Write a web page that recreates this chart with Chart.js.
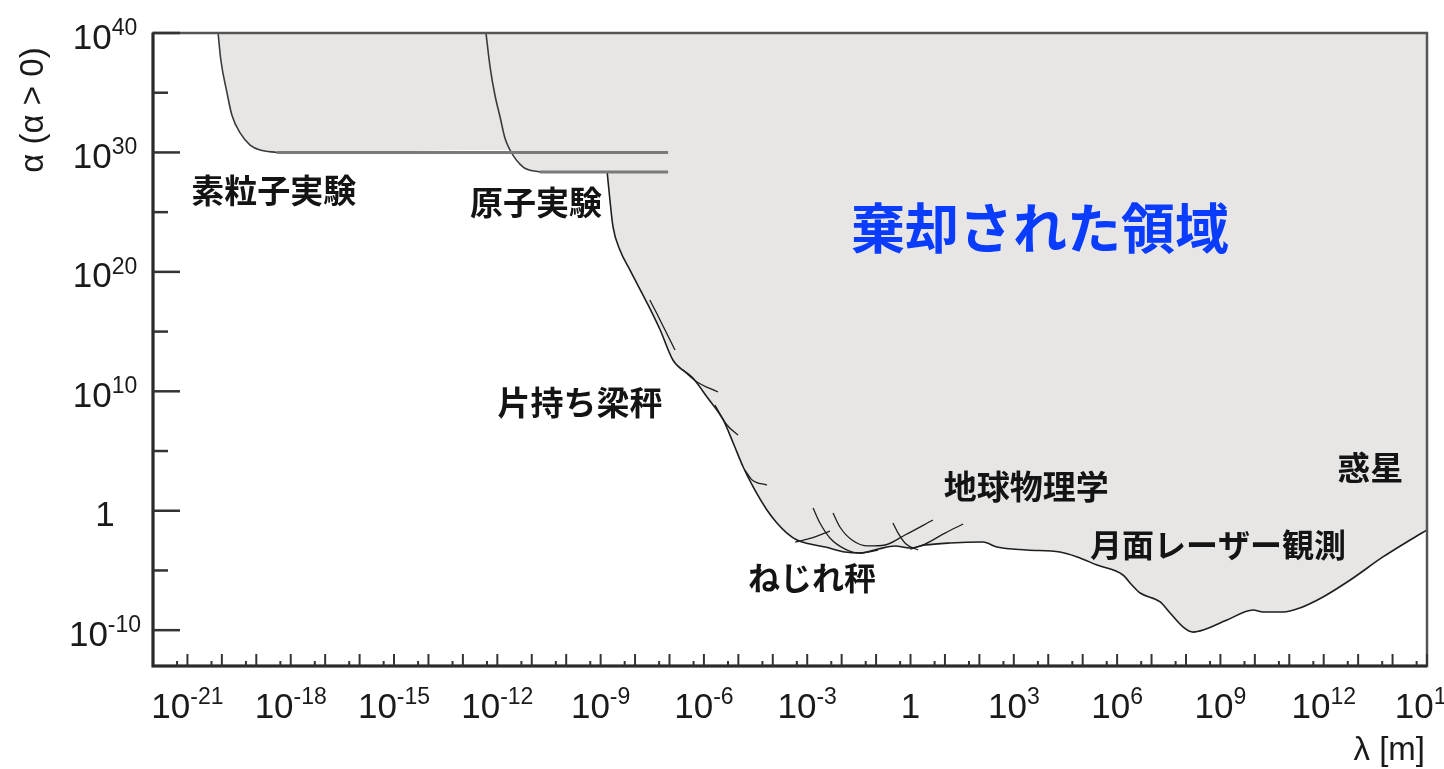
<!DOCTYPE html>
<html lang="ja">
<head>
<meta charset="utf-8">
<script src="https://cdn.jsdelivr.net/npm/chart.js@4.4.1/dist/chart.umd.min.js"></script>
<style>
html, body { margin: 0; padding: 0; background: #fff; overflow: hidden; }
#wrap { position: relative; width: 1444px; height: 769px; }
</style>
</head>
<body>
<div id="wrap"><canvas id="chart0"></canvas></div>
<script>
/** Data: [log10(lambda / m), log10(alpha)] **/
const particleCurve = [[-20.11, 40], [-20.03, 37.74], [-19.85, 34.98], [-19.71, 33.13], [-19.47, 31.63], [-19.18, 30.62], [-18.89, 30.20], [-18.40, 30]];
const particleFlat = [[-18.40, 30], [-7.04, 30]];
const atomicCurve = [[-12.33, 40], [-12.21, 37.15], [-12.07, 34.81], [-11.92, 32.97], [-11.78, 31.21], [-11.63, 30.20], [-11.25, 28.78], [-10.76, 28.36]];
const atomicFlat = [[-10.76, 28.36], [-7.04, 28.36]];
const mainCurve = [[-8.81, 28.36], [-8.73, 26.02], [-8.64, 23.76], [-8.44, 21.83], [-8.15, 20.16], [-7.65, 17.39], [-7.27, 15.13],
  [-6.90, 12.62], [-6.32, 11.11], [-5.91, 9.52], [-5.44, 7.60], [-5.15, 5.67], [-4.86, 3.66], [-4.57, 1.99], [-4.17, 0.06],
  [-3.88, -1.03], [-3.59, -1.87], [-3.30, -2.45], [-2.92, -2.79], [-2.48, -3.04], [-1.90, -3.46], [-1.47, -3.54], [-0.94, -3.21],
  [-0.45, -2.95], [-0.01, -3.12], [0.42, -2.87], [1.15, -2.70], [2.11, -2.62], [2.51, -3.04], [3.38, -3.29], [4.34, -3.46],
  [4.84, -3.87], [5.42, -4.55], [6.17, -5.38], [6.43, -6.22], [6.67, -6.89], [7.25, -7.64], [7.54, -8.56], [7.92, -9.74],
  [8.21, -10.16], [8.50, -9.99], [9.19, -9.15], [9.95, -8.31], [10.24, -8.48], [10.82, -8.48], [11.31, -8.14], [11.98, -7.22],
  [12.77, -5.80], [13.72, -3.87], [14.51, -2.45], [15.0, -1.61]];
// cantilever branches
const cantilever1 = [[-7.57, 17.64], [-7.36, 16.47], [-7.10, 14.96], [-6.84, 13.46]];
const cantilever2 = [[-6.61, 11.78], [-6.20, 10.78], [-5.59, 9.94]];
const cantilever3 = [[-5.68, 8.85], [-5.33, 7.18], [-5.01, 6.34]];
const cantilever4 = [[-4.81, 3.41], [-4.60, 2.57], [-4.17, 2.15]];
// torsion balance branches
const torsion1 = [[-2.83, 0.23], [-2.63, -1.03], [-2.34, -2.28], [-1.90, -3.21], [-1.47, -3.54], [-0.94, -3.29]];
const torsion2 = [[-2.25, -0.19], [-2.05, -1.36], [-1.70, -2.45], [-1.23, -2.95], [-0.74, -2.87], [-0.16, -2.03], [0.65, -0.78]];
const torsion3 = [[-0.51, -1.03], [-0.36, -1.87], [-0.13, -2.79], [0.22, -3.29]];
const torsion4 = [[-0.01, -3.21], [0.42, -2.79], [1.00, -1.87], [1.53, -1.11]];
const torsion5 = [[-3.35, -2.62], [-2.86, -2.28], [-2.34, -1.70]];

/** Axes **/
const xMin = -22, xMax = 15, yMin = -13, yMax = 40;
const xLabelExp = [-21, -18, -15, -12, -9, -6, -3, 0, 3, 6, 9, 12, 15];
const yLabelExp = [40, 30, 20, 10, 0, -10];
const yMinorExp = [35, 25, 15, 5, -5];

const annotations = [
  { text: "素粒子実験", lx: -18.49, ly: 26.85, size: 33, color: "#141414" },
  { text: "原子実験", lx: -10.88, ly: 25.85, size: 33, color: "#141414" },
  { text: "棄却された領域", lx: 3.76, ly: 23.67, size: 54, color: "#0a3cff" },
  { text: "片持ち梁秤", lx: -9.60, ly: 9.10, size: 33, color: "#141414" },
  { text: "地球物理学", lx: 3.36, ly: 2.07, size: 33, color: "#141414" },
  { text: "惑星", lx: 13.35, ly: 3.66, size: 33, color: "#141414" },
  { text: "月面レーザー観測", lx: 8.93, ly: -2.87, size: 32, color: "#141414" },
  { text: "ねじれ秤", lx: -2.86, ly: -5.63, size: 32, color: "#141414" }
];

function toPoints(arr) {
  return arr.map(p => ({ x: Math.pow(10, p[0]), y: Math.pow(10, p[1]) }));
}

const fillBoundary = particleCurve.concat(atomicCurve.filter(p => p[1] <= 30.2), mainCurve);

function lineSet(arr, color, width) {
  return {
    data: toPoints(arr),
    showLine: true,
    borderColor: color,
    borderWidth: width,
    pointRadius: 0,
    fill: false,
    cubicInterpolationMode: 'monotone'
  };
}

const baseFont = '35px "Liberation Sans", Arial, sans-serif';
const supFont = '23px "Liberation Sans", Arial, sans-serif';

function drawPow(ctx, exp, cx, cy) {
  ctx.textAlign = 'left';
  ctx.textBaseline = 'alphabetic';
  ctx.font = baseFont;
  if (exp === 0) {
    const w1 = ctx.measureText('1').width;
    ctx.fillText('1', cx - w1 / 2, cy + 12.6);
    return;
  }
  const wb = ctx.measureText('10').width;
  ctx.font = supFont;
  const sup = String(exp);
  const ws = ctx.measureText(sup).width;
  const left = cx - (wb + ws) / 2;
  ctx.font = baseFont;
  ctx.fillText('10', left, cy + 12.6);
  ctx.font = supFont;
  ctx.fillText(sup, left + wb, cy - 1);
}

const axesPlugin = {
  id: 'axesPlugin',
  afterDatasetsDraw(chart) {
    const ctx = chart.ctx;
    const a = chart.chartArea;
    const xs = chart.scales.x, ys = chart.scales.y;
    ctx.save();
    // frame
    ctx.strokeStyle = '#555';
    ctx.lineWidth = 2.5;
    ctx.strokeRect(a.left, a.top, a.right - a.left, a.bottom - a.top);
    ctx.strokeStyle = '#2a2a2a';
    ctx.lineWidth = 3;
    ctx.beginPath();
    ctx.moveTo(a.left, a.top);
    ctx.lineTo(a.left, a.bottom);
    ctx.lineTo(a.right, a.bottom);
    ctx.stroke();

    // y ticks
    ctx.lineWidth = 2.5;
    ctx.strokeStyle = '#333';
    yLabelExp.forEach(e => {
      const y = ys.getPixelForValue(Math.pow(10, e));
      ctx.beginPath(); ctx.moveTo(a.left, y); ctx.lineTo(a.left + 27, y); ctx.stroke();
    });
    yMinorExp.forEach(e => {
      const y = ys.getPixelForValue(Math.pow(10, e));
      ctx.beginPath(); ctx.moveTo(a.left, y); ctx.lineTo(a.left + 15, y); ctx.stroke();
    });
    // x ticks
    ctx.lineWidth = 2;
    for (let e = xMin + 1; e <= xMax; e++) {
      const x = xs.getPixelForValue(Math.pow(10, e));
      ctx.beginPath(); ctx.moveTo(x, a.bottom); ctx.lineTo(x, a.bottom - 12); ctx.stroke();
      const xm = xs.getPixelForValue(5 * Math.pow(10, e - 1));
      ctx.beginPath(); ctx.moveTo(xm, a.bottom); ctx.lineTo(xm, a.bottom - 5); ctx.stroke();
    }

    // tick labels
    ctx.fillStyle = '#1a1a1a';
    yLabelExp.forEach(e => {
      drawPow(ctx, e, 105, ys.getPixelForValue(Math.pow(10, e)) + 3);
    });
    xLabelExp.forEach(e => {
      drawPow(ctx, e, xs.getPixelForValue(Math.pow(10, e)), a.bottom + 39);
    });

    // axis titles
    ctx.font = '33px "Liberation Sans", Arial, sans-serif';
    ctx.save();
    ctx.translate(34, 110);
    ctx.rotate(-Math.PI / 2);
    ctx.textAlign = 'center';
    ctx.textBaseline = 'middle';
    ctx.fillText('α (α > 0)', 0, 0);
    ctx.restore();
    ctx.textAlign = 'right';
    ctx.textBaseline = 'alphabetic';
    ctx.fillText('λ [m]', a.right - 2, 760);

    // region labels
    ctx.textAlign = 'center';
    ctx.textBaseline = 'middle';
    annotations.forEach(t => {
      ctx.font = 'bold ' + t.size + 'px "Noto Sans CJK JP", sans-serif';
      ctx.fillStyle = t.color;
      ctx.fillText(t.text, xs.getPixelForValue(Math.pow(10, t.lx)), ys.getPixelForValue(Math.pow(10, t.ly)));
    });
    ctx.restore();
  }
};

const dark = '#1e1e1e';
const flatGray = '#7a7a7a';

var ctx = document.getElementById('chart0');
var chart = new Chart(ctx, {
  type: 'scatter',
  data: {
    datasets: [
      {
        data: toPoints(fillBoundary),
        showLine: true,
        borderWidth: 0,
        borderColor: 'rgba(0,0,0,0)',
        backgroundColor: '#e7e6e5',
        pointRadius: 0,
        fill: 'end',
        cubicInterpolationMode: 'monotone',
        order: 10
      },
      lineSet(particleCurve, '#3a3a3a', 1.6),
      lineSet(particleFlat, flatGray, 3),
      lineSet(atomicCurve, '#3a3a3a', 1.6),
      lineSet(atomicFlat, flatGray, 3),
      lineSet(mainCurve, dark, 1.6),
      lineSet(cantilever1, dark, 1.3),
      lineSet(cantilever2, dark, 1.3),
      lineSet(cantilever3, dark, 1.3),
      lineSet(cantilever4, dark, 1.3),
      lineSet(torsion1, dark, 1.3),
      lineSet(torsion2, dark, 1.3),
      lineSet(torsion3, dark, 1.3),
      lineSet(torsion4, dark, 1.3),
      lineSet(torsion5, dark, 1.3)
    ]
  },
  options: {
    responsive: true,
    maintainAspectRatio: false,
    animation: false,
    layout: { padding: { left: 153, top: 33, right: 17, bottom: 103 } },
    plugins: {
      legend: { display: false },
      tooltip: { enabled: false }
    },
    scales: {
      x: { type: 'logarithmic', display: false, min: Math.pow(10, xMin), max: Math.pow(10, xMax) },
      y: { type: 'logarithmic', display: false, min: Math.pow(10, yMin), max: Math.pow(10, yMax) }
    }
  },
  plugins: [axesPlugin]
});
</script>
</body>
</html>
